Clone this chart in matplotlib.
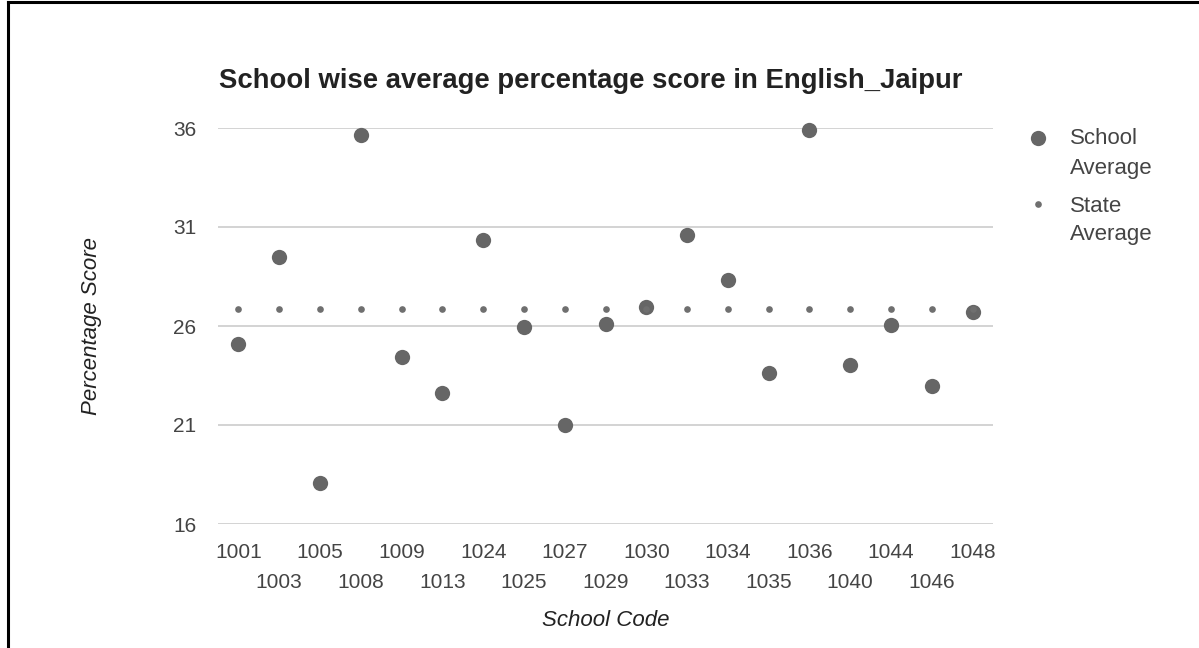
import matplotlib
matplotlib.use("Agg")
import matplotlib.pyplot as plt
from matplotlib.lines import Line2D

plt.rcParams['font.family'] = ['Liberation Sans', 'DejaVu Sans']

school_codes = ['1001', '1003', '1005', '1008', '1009', '1013', '1024', '1025', '1027', '1029',
                '1030', '1033', '1034', '1035', '1036', '1040', '1044', '1046', '1048']
school_avg = [25.09, 29.48, 18.07, 35.63, 24.43, 22.62, 30.36, 25.95, 21.0, 26.1,
              26.94, 30.61, 28.30, 23.63, 35.9, 24.03, 26.05, 22.97, 26.69]
state_avg = [26.85] * len(school_codes)
y_ticks = [16, 21, 26, 31, 36]

W, H = 1199, 648
fig = plt.figure(figsize=(W / 100, H / 100), dpi=100)
ax = fig.add_axes([218 / W, 1 - 524 / H, (993 - 218) / W, (524 - 128) / H])

x = list(range(len(school_codes)))
ax.plot(x, school_avg, linestyle='none', marker='o', markersize=11,
        color='#666666', markeredgewidth=0, clip_on=False, zorder=3)
ax.plot(x, state_avg, linestyle='none', marker='o', markersize=4.8,
        color='#6f6f6f', markeredgewidth=0, clip_on=False, zorder=4)

ax.set_xlim(-0.5, len(school_codes) - 0.5)
ax.set_ylim(16, 36)
ax.set_yticks(y_ticks)
ax.set_yticklabels([str(v) for v in y_ticks])
ax.grid(axis='y', color='#cccccc', linewidth=1.2)
ax.set_axisbelow(True)
for s in ax.spines.values():
    s.set_visible(False)
ax.tick_params(axis='y', length=0, pad=15.5, labelsize=15, labelcolor='#444444')

even = [i for i in x if i % 2 == 0]
odd = [i for i in x if i % 2 == 1]
ax.set_xticks(even)
ax.set_xticklabels([school_codes[i] for i in even])
ax.set_xticks(odd, minor=True)
ax.set_xticklabels([school_codes[i] for i in odd], minor=True)
ax.tick_params(axis='x', which='major', length=0, pad=14, labelsize=15, labelcolor='#444444')
ax.tick_params(axis='x', which='minor', length=0, pad=35.5, labelsize=15, labelcolor='#444444')

fig.text(606 / W, 1 - 620 / H, 'School Code', fontsize=16, style='italic', color='#222222',
         ha='center', va='center')
fig.text(92 / W, 1 - 326 / H, 'Percentage Score', fontsize=16, style='italic', color='#222222',
         ha='center', va='center', rotation=90)

fig.text(219 / W, 1 - 81.5 / H, 'School wise average percentage score in English_Jaipur',
         fontsize=19.8, fontweight='bold', color='#222222', ha='left', va='center')

# legend
fig.add_artist(Line2D([1038 / W], [1 - 138 / H], marker='o', markersize=11, color='#666666',
                      markeredgewidth=0, linestyle='none'))
fig.add_artist(Line2D([1038 / W], [1 - 204 / H], marker='o', markersize=4.8, color='#6f6f6f',
                      markeredgewidth=0, linestyle='none'))
for label, yy in [('School', 139), ('Average', 169), ('State', 206), ('Average', 235)]:
    fig.text(1070 / W, 1 - yy / H, label, fontsize=16, color='#444444',
             ha='left', va='center')

# frame
fig.add_artist(Line2D([8 / W, 8 / W], [0, 1 - 2 / H], color='black', linewidth=2.2))
fig.add_artist(Line2D([8 / W, 1], [1 - 2 / H, 1 - 2 / H], color='black', linewidth=2.2))

fig.savefig('out.png', dpi=100)
